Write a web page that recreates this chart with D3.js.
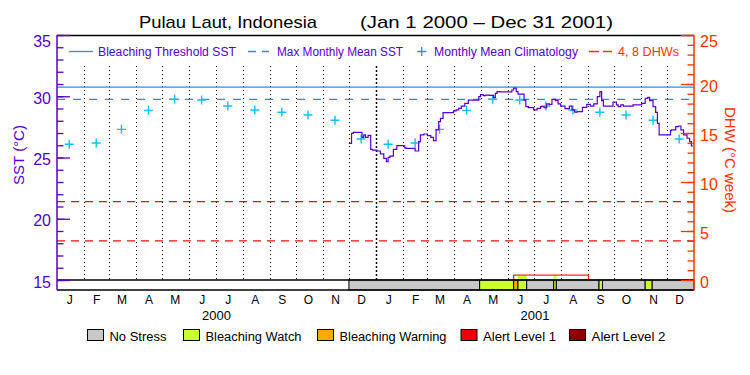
<!DOCTYPE html>
<html lang="en">
<head>
    <meta charset="UTF-8"/>
    <title>Pulau Laut SST</title>
    <script src="https://d3js.org/d3.v7.min.js"></script>
    <style>
        body { margin: 0; background: white; }
        text { font-family: "Liberation Sans", Arial, sans-serif; }
    </style>
</head>
<body>
<script>

    // daily SST (step changes), Dec 2000 - Dec 2001
    var sstDates = ["2000-12-01","2000-12-04","2000-12-06","2000-12-16","2000-12-18","2000-12-20","2000-12-23","2000-12-26","2000-12-28",
        "2001-01-02","2001-01-06","2001-01-10","2001-01-13","2001-01-15","2001-01-17","2001-01-21","2001-01-25","2001-01-28",
        "2001-02-03","2001-02-05","2001-02-15","2001-02-17","2001-02-19","2001-02-21","2001-02-25",
        "2001-03-01","2001-03-05","2001-03-08","2001-03-11","2001-03-14","2001-03-16","2001-03-19","2001-03-22","2001-03-31",
        "2001-04-03","2001-04-06","2001-04-09","2001-04-13","2001-04-17","2001-04-19","2001-04-29",
        "2001-05-01","2001-05-04","2001-05-07","2001-05-11","2001-05-16","2001-05-18","2001-05-20","2001-05-23",
        "2001-06-06","2001-06-08","2001-06-11","2001-06-13","2001-06-17","2001-06-20","2001-06-22","2001-06-25",
        "2001-07-01","2001-07-05","2001-07-09","2001-07-13","2001-07-16","2001-07-19","2001-07-22","2001-07-26","2001-07-29",
        "2001-08-01","2001-08-06","2001-08-11","2001-08-14","2001-08-17","2001-08-20","2001-08-26","2001-08-31",
        "2001-09-04","2001-09-08","2001-09-12","2001-09-15","2001-09-17","2001-09-19","2001-09-23","2001-09-30",
        "2001-10-04","2001-10-06","2001-10-09","2001-10-12","2001-10-23",
        "2001-11-02","2001-11-06","2001-11-09","2001-11-11","2001-11-15","2001-11-18","2001-11-20","2001-11-22","2001-11-24",
        "2001-12-05","2001-12-06","2001-12-11","2001-12-14","2001-12-17","2001-12-20","2001-12-24","2001-12-27","2001-12-29","2001-12-31"];
    var sstValues = [26.16,26.97,27.05,26.65,26.84,26.65,26.81,25.67,25.61,
        25.53,25.29,24.93,24.66,25.01,25.12,25.67,25.97,25.97,
        25.78,25.75,25.53,25.53,26.29,26.84,26.92,
        26.78,26.65,26.37,27.25,27.93,28.20,28.66,28.66,28.80,
        28.88,29.01,29.20,29.42,29.69,29.69,29.97,
        30.13,30.05,30.10,30.07,29.88,30.24,30.37,30.35,
        30.51,30.67,30.37,30.18,30.18,29.69,29.15,29.07,
        28.88,29.01,29.15,29.07,29.37,29.34,29.75,29.64,29.37,
        29.20,28.99,29.20,28.88,28.71,28.74,29.10,29.34,
        29.20,29.37,29.97,30.37,29.64,29.20,29.20,29.53,
        29.29,29.15,29.29,29.20,29.29,
        29.42,29.83,29.91,29.64,29.15,28.69,27.79,26.84,26.84,
        27.19,27.25,27.52,27.57,27.25,26.84,26.57,26.29,25.94,25.94];

    // monthly mean climatology (Jan..Dec)
    var climMonths = ["J","F","M","A","M","J","J","A","S","O","N","D"];
    var climValues = [26.08, 26.18, 27.30, 28.85, 29.75, 29.69, 29.20, 28.88, 28.69, 28.47, 28.04, 26.51];

    var mmm = 29.75;           // max monthly mean
    var threshold = mmm + 1;   // bleaching threshold
    var dhwLevels = [4, 8];

    // degree heating weeks
    var dhwDates = ["2001-06-08", "2001-09-02"];
    var dhwValues = [0.5, 0];

    // stress level periods (-1 = no data)
    var stressStarts = ["2000-01-01","2000-12-01","2001-04-30","2001-06-08","2001-06-13","2001-06-23","2001-07-24","2001-07-27","2001-09-14","2001-09-18","2001-11-06","2001-11-14"];
    var stressLevels = [-1, 0, 1, 2, 1, 0, 1, 0, 1, 0, 1, 0];

    var stressNames = ["No Stress", "Bleaching Watch", "Bleaching Warning", "Alert Level 1", "Alert Level 2"];
    var stressColors = ["#c8c8c8", "#ccff33", "#ffaa00", "#ee0000", "#8b0000"];

    var years = ["2000", "2001"];

    var purple = "#5500cc", orange = "#ff3300", blue = "#1e90ff", cyan = "#10bff5";

    var parse = d3.timeParse("%Y-%m-%d");
    var w = 750, h = 375;
    var padL = 57, padR = 694, padT = 35, padB = 280, barB = 290;

    var x = d3.scaleTime()
        .domain([new Date(2000, 0, 1), new Date(2002, 0, 1)])
        .range([padL, padR]);
    var ySST = d3.scaleLinear().domain([15, 35]).range([padB, padT]);
    var yDHW = d3.scaleLinear().domain([0, 25]).range([padB, padT]);

    var svg = d3.select("body").append("svg")
        .attr("width", w)
        .attr("height", h);

    // title
    svg.append("text").attr("x", 139).attr("y", 28)
        .attr("font-size", 17).attr("textLength", 178).attr("lengthAdjust", "spacingAndGlyphs")
        .text("Pulau Laut, Indonesia");
    svg.append("text").attr("x", 360).attr("y", 28)
        .attr("font-size", 17).attr("textLength", 253).attr("lengthAdjust", "spacingAndGlyphs")
        .text("(Jan 1 2000 \u2013 Dec 31 2001)");

    // month grid (year boundary drawn heavier)
    svg.append("g").selectAll("line")
        .data(d3.timeMonth.range(new Date(2000, 1, 1), new Date(2002, 0, 1)))
        .enter().append("line")
        .attr("x1", function(d){ return Math.round(x(d)) + 0.5; })
        .attr("x2", function(d){ return Math.round(x(d)) + 0.5; })
        .attr("y1", 66).attr("y2", padB)
        .attr("stroke", "black")
        .attr("stroke-width", function(d){ return d.getMonth() == 0 ? 1.5 : 1; })
        .attr("stroke-dasharray", function(d){ return d.getMonth() == 0 ? "2,2" : "1,3"; });

    // reference lines
    svg.append("line").attr("x1", padL).attr("x2", padR)
        .attr("y1", ySST(threshold)).attr("y2", ySST(threshold))
        .attr("stroke", blue).attr("stroke-width", 1.3);
    svg.append("line").attr("x1", padL).attr("x2", padR)
        .attr("y1", ySST(mmm)).attr("y2", ySST(mmm))
        .attr("stroke", blue).attr("stroke-width", 1.3).attr("stroke-dasharray", "8,8");
    svg.selectAll(".dhwline").data(dhwLevels).enter().append("line")
        .attr("class", "dhwline")
        .attr("x1", padL).attr("x2", padR)
        .attr("y1", function(d){ return yDHW(d); }).attr("y2", function(d){ return yDHW(d); })
        .attr("stroke", "#e51010").attr("stroke-width", 1.3).attr("stroke-dasharray", "8,6");

    // climatology markers, both years
    var clim = [];
    years.forEach(function(yr){
        climValues.forEach(function(v, i){
            clim.push({ date: new Date(+yr, i, 15), value: v });
        });
    });
    svg.append("g").selectAll("path")
        .data(clim).enter().append("path")
        .attr("transform", function(d){ return "translate(" + x(d.date) + "," + ySST(d.value) + ")"; })
        .attr("d", "M-4.5,0H4.5M0,-4.5V4.5")
        .attr("stroke", cyan).attr("stroke-width", 1.4);

    // SST line
    var sst = sstDates.map(function(d, i){ return { date: parse(d), value: sstValues[i] }; });
    svg.append("path")
        .datum(sst)
        .attr("fill", "none")
        .attr("stroke", purple)
        .attr("stroke-width", 1.2)
        .attr("d", d3.line().curve(d3.curveStepAfter)
            .x(function(d){ return x(d.date); })
            .y(function(d){ return ySST(d.value); }));

    // stress segments
    var segs = stressStarts.map(function(d, i){
        return { start: parse(d), end: i < stressStarts.length - 1 ? parse(stressStarts[i + 1]) : new Date(2002, 0, 1), level: stressLevels[i] };
    });

    // DHW step area
    var dhwPts = [], prev = 0;
    dhwDates.forEach(function(d, i){
        dhwPts.push({ date: parse(d), value: prev });
        dhwPts.push({ date: parse(d), value: dhwValues[i] });
        prev = dhwValues[i];
    });
    var dhwArea = d3.area()
        .x(function(d){ return x(d.date); })
        .y0(yDHW(0))
        .y1(function(d){ return yDHW(d.value); });
    svg.append("clipPath").attr("id", "dhwclip")
        .append("path").datum(dhwPts).attr("d", dhwArea);
    svg.append("g").attr("clip-path", "url(#dhwclip)")
        .selectAll("rect")
        .data(segs.filter(function(s){ return s.level == 1; }))
        .enter().append("rect")
        .attr("x", function(d){ return x(d.start); })
        .attr("width", function(d){ return x(d.end) - x(d.start); })
        .attr("y", padT).attr("height", padB - padT)
        .attr("fill", function(d){ return stressColors[d.level]; });
    svg.append("path")
        .datum(dhwPts)
        .attr("fill", "none")
        .attr("stroke", orange)
        .attr("stroke-width", 1.3)
        .attr("d", d3.line()
            .x(function(d){ return x(d.date); })
            .y(function(d){ return yDHW(d.value); }));

    svg.append("g").selectAll("rect")
        .data(segs.filter(function(s){ return s.level >= 0; }))
        .enter().append("rect")
        .attr("x", function(d){ return x(d.start); })
        .attr("width", function(d){ return x(d.end) - x(d.start); })
        .attr("y", padB).attr("height", barB - padB)
        .attr("fill", function(d){ return stressColors[d.level]; })
        .attr("stroke", "black");

    // frame
    [padT + 0.5, padB, barB].forEach(function(yy){
        svg.append("line").attr("x1", padL).attr("x2", padR).attr("y1", yy).attr("y2", yy)
            .attr("stroke", "black").attr("stroke-width", 1.3);
    });

    // left axis
    var leftG = svg.append("g").attr("transform", "translate(" + padL + ",0)");
    leftG.append("g").call(d3.axisLeft(ySST).ticks(20).tickSize(-6.5).tickFormat(""));
    leftG.append("g").call(d3.axisLeft(ySST).tickValues([15, 20, 25, 30, 35]).tickSize(-13).tickPadding(6));
    leftG.selectAll(".domain").remove();
    leftG.selectAll("line").attr("stroke", purple).attr("stroke-width", 1.3);
    leftG.selectAll("text").attr("fill", purple).attr("font-size", 16)
        .attr("font-family", "Liberation Sans, Arial, sans-serif")
        .attr("dy", function(d){ return d == 35 ? "0.7em" : "0.45em"; });
    leftG.append("line").attr("y1", padT).attr("y2", barB).attr("stroke", purple).attr("stroke-width", 1.5);

    // right axis
    var rightG = svg.append("g").attr("transform", "translate(" + padR + ",0)");
    rightG.append("g").call(d3.axisRight(yDHW).ticks(25).tickSize(-6.5).tickFormat(""));
    rightG.append("g").call(d3.axisRight(yDHW).tickValues([0, 5, 10, 15, 20, 25]).tickSize(-13).tickPadding(6));
    rightG.selectAll(".domain").remove();
    rightG.selectAll("line").attr("stroke", orange).attr("stroke-width", 1.3);
    rightG.selectAll("text").attr("fill", orange).attr("font-size", 16)
        .attr("font-family", "Liberation Sans, Arial, sans-serif")
        .attr("dy", function(d){ return d == 25 ? "0.7em" : "0.45em"; });
    rightG.append("line").attr("y1", padT).attr("y2", barB).attr("stroke", orange).attr("stroke-width", 1.5);

    // axis titles
    svg.append("text")
        .attr("transform", "translate(24,155) rotate(-90)")
        .attr("text-anchor", "middle").attr("font-size", 15).attr("fill", purple)
        .text("SST (\u00B0C)");
    svg.append("text")
        .attr("transform", "translate(725,160) rotate(90)")
        .attr("text-anchor", "middle").attr("font-size", 15).attr("fill", orange)
        .text("DHW (\u00B0C week)");

    // month labels
    var mids = [];
    years.forEach(function(yr){
        climMonths.forEach(function(m, i){ mids.push(new Date(+yr, i, 15)); });
    });
    var xAxis = svg.append("g").attr("transform", "translate(0," + barB + ")")
        .call(d3.axisBottom(x).tickValues(mids).tickSize(0).tickPadding(5)
            .tickFormat(function(d){ return climMonths[d.getMonth()]; }));
    xAxis.select(".domain").remove();
    xAxis.selectAll("text").attr("font-size", 12).attr("fill", "black")
        .attr("font-family", "Liberation Sans, Arial, sans-serif");

    svg.selectAll(".year").data(years).enter().append("text")
        .attr("class", "year")
        .attr("x", function(d){ return (x(new Date(+d, 0, 1)) + x(new Date(+d + 1, 0, 1))) / 2; })
        .attr("y", 320)
        .attr("text-anchor", "middle").attr("font-size", 13)
        .text(function(d){ return d; });

    // top legend
    var lg = svg.append("g").attr("font-size", 12.5);
    lg.append("line").attr("x1", 69).attr("x2", 93).attr("y1", 51.5).attr("y2", 51.5).attr("stroke", blue).attr("stroke-width", 1.3);
    lg.append("text").attr("x", 98).attr("y", 55.5).attr("fill", purple)
        .attr("textLength", 138).attr("lengthAdjust", "spacingAndGlyphs").text("Bleaching Threshold SST");
    lg.append("line").attr("x1", 248).attr("x2", 269).attr("y1", 51.5).attr("y2", 51.5).attr("stroke", blue).attr("stroke-width", 1.3).attr("stroke-dasharray", "8,6");
    lg.append("text").attr("x", 277).attr("y", 55.5).attr("fill", purple)
        .attr("textLength", 126).attr("lengthAdjust", "spacingAndGlyphs").text("Max Monthly Mean SST");
    lg.append("path").attr("transform", "translate(421.7,51.5)").attr("d", "M-4.5,0H4.5M0,-4.5V4.5").attr("stroke", blue).attr("stroke-width", 1.3);
    lg.append("text").attr("x", 434).attr("y", 55.5).attr("fill", purple)
        .attr("textLength", 144).attr("lengthAdjust", "spacingAndGlyphs").text("Monthly Mean Climatology");
    lg.append("line").attr("x1", 589).attr("x2", 612).attr("y1", 51.5).attr("y2", 51.5).attr("stroke", orange).attr("stroke-width", 1.3).attr("stroke-dasharray", "10,4");
    lg.append("text").attr("x", 618).attr("y", 55.5).attr("fill", orange)
        .attr("textLength", 61).attr("lengthAdjust", "spacingAndGlyphs").text("4, 8 DHWs");

    // bottom legend
    var boxX = [87.5, 183.5, 317.5, 461, 569.5];
    var textW = [57, 96, 107, 73, 74];
    var bl = svg.append("g").selectAll("g").data(stressNames).enter().append("g");
    bl.append("rect")
        .attr("x", function(d, i){ return boxX[i]; }).attr("y", 329.5)
        .attr("width", 16).attr("height", 11)
        .attr("fill", function(d, i){ return stressColors[i]; })
        .attr("stroke", "black");
    bl.append("text")
        .attr("x", function(d, i){ return boxX[i] + 22; }).attr("y", 341)
        .attr("font-size", 12.5)
        .attr("textLength", function(d, i){ return textW[i]; }).attr("lengthAdjust", "spacingAndGlyphs")
        .text(function(d){ return d; });

</script>
</body>
</html>
